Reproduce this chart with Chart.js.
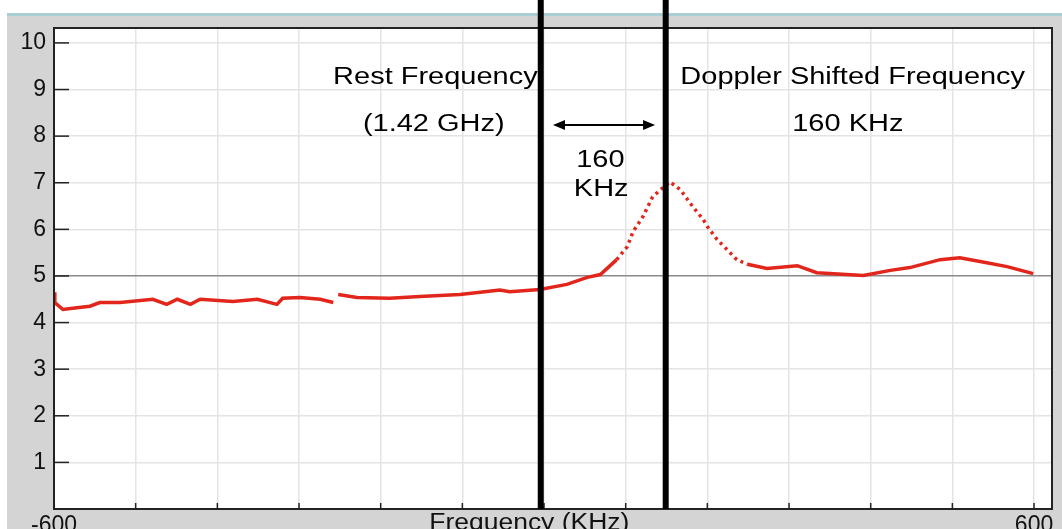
<!DOCTYPE html>
<html>
<head>
<meta charset="utf-8">
<script src="https://cdn.jsdelivr.net/npm/chart.js@4.4.1/dist/chart.umd.min.js"></script>
<style>
  html, body { margin: 0; padding: 0; background: #fff; overflow: hidden; }
  #wrap { position: absolute; left: 0; top: 0; width: 1062px; height: 545px; }
</style>
</head>
<body>
<div id="wrap"><canvas id="c"></canvas></div>
<script>
// ==============================
// Waterstof spectrum (21 cm lijn)
// ==============================
const freqKHz = [-600, -599, -589, -572, -556, -544, -519, -479, -462, -449, -433, -421,
  -381, -351, -327, -320, -299, -274, -258, -255, -252, -229, -189, -152, -103, -78,
  -54, -42, -5, 28, 53, 69, 89, 102, 109, 121, 133, 146, 154, 167, 182, 195, 200,
  212, 224, 236, 249, 273, 310, 334, 391, 424, 448, 485, 509, 534, 567, 599];
const power = [4.65, 4.43, 4.28, 4.32, 4.35, 4.43, 4.43, 4.5, 4.39, 4.5, 4.39, 4.5,
  4.45, 4.5, 4.39, 4.52, 4.54, 4.5, 4.43, null, 4.6, 4.54, 4.52, 4.56, 4.6, 4.65,
  4.7, 4.66, 4.71, 4.82, 4.97, 5.03, 5.35, 5.63, 5.95, 6.27, 6.7, 6.9, 7.02, 6.85,
  6.49, 6.21, 6.06, 5.78, 5.57, 5.35, 5.25, 5.16, 5.22, 5.07, 5.01, 5.12, 5.18,
  5.35, 5.39, 5.31, 5.2, 5.05];

const xTickLabels = [-600, 600];
const yTickLabels = [1, 2, 3, 4, 5, 6, 7, 8, 9, 10];
const markerFreqs = [-4, 149]; // rust- en doppler frequentie
const noteTexts = ["Rest Frequency", "(1.42 GHz)", "160", "KHz", "Doppler Shifted Frequency", "160 KHz"];

const FONT = '"Liberation Sans", Arial, sans-serif';

// Achtergrond, kader, markeringen en teksten
const decor = {
  id: "decor",
  beforeDraw(chart) {
    const { ctx, chartArea: a } = chart;
    ctx.save();
    ctx.fillStyle = "#ffffff";
    ctx.fillRect(0, 0, chart.width, chart.height);
    ctx.fillStyle = "#d4d4d4";
    ctx.fillRect(7, 14, chart.width - 7, chart.height - 14);
    ctx.fillStyle = "#a9cfd2";
    ctx.fillRect(7, 13, chart.width - 7, 3);
    ctx.fillStyle = "#ffffff";
    ctx.fillRect(a.left, a.top, a.width, a.height);
    ctx.restore();
  },
  afterDatasetsDraw(chart) {
    const { ctx, chartArea: a, scales } = chart;
    const xs = scales.x, ys = scales.y;
    ctx.save();

    // kader
    ctx.strokeStyle = "#222";
    ctx.lineWidth = 2;
    ctx.strokeRect(a.left, a.top, a.width, a.height);

    // tick streepjes naar binnen
    ctx.lineWidth = 1.5;
    yTickLabels.forEach((v) => {
      const py = ys.getPixelForValue(v);
      ctx.beginPath(); ctx.moveTo(a.left, py); ctx.lineTo(a.left + 15, py); ctx.stroke();
    });
    for (let v = -500; v <= 600; v += 100) {
      const px = xs.getPixelForValue(v);
      ctx.beginPath(); ctx.moveTo(px, a.bottom); ctx.lineTo(px, a.bottom - 6); ctx.stroke();
    }

    // dikke verticale lijnen
    ctx.strokeStyle = "#000";
    ctx.lineWidth = 6;
    markerFreqs.forEach((f) => {
      const px = xs.getPixelForValue(f);
      ctx.beginPath(); ctx.moveTo(px, 0); ctx.lineTo(px, a.bottom); ctx.stroke();
    });

    // pijl tussen de lijnen
    const ay = ys.getPixelForValue(8.24);
    const ax1 = xs.getPixelForValue(11), ax2 = xs.getPixelForValue(136);
    ctx.lineWidth = 2;
    ctx.beginPath(); ctx.moveTo(ax1 + 4, ay); ctx.lineTo(ax2 - 4, ay); ctx.stroke();
    ctx.fillStyle = "#000";
    [[ax1, 1], [ax2, -1]].forEach(([x0, d]) => {
      ctx.beginPath();
      ctx.moveTo(x0, ay);
      ctx.lineTo(x0 + d * 12, ay - 5);
      ctx.lineTo(x0 + d * 12, ay + 5);
      ctx.closePath(); ctx.fill();
    });

    // teksten (iets breder getrokken zoals in het origineel)
    const spots = [[-133, 9.25], [-135, 8.24], [69, 7.47], [70, 6.85], [378, 9.25], [372, 8.24]];
    ctx.font = "23px " + FONT;
    ctx.textAlign = "center";
    ctx.textBaseline = "middle";
    noteTexts.forEach((t, i) => {
      const px = xs.getPixelForValue(spots[i][0]);
      const py = ys.getPixelForValue(spots[i][1]);
      ctx.save();
      ctx.translate(px, py);
      ctx.scale(1.26, 1);
      ctx.fillText(t, 0, 0);
      ctx.restore();
    });

    // as titel
    ctx.font = "23px " + FONT;
    ctx.fillStyle = "#111";
    ctx.textBaseline = "top";
    ctx.save();
    ctx.translate(xs.getPixelForValue(-18), a.bottom + 3);
    ctx.scale(1.15, 1);
    ctx.fillText("Frequency (KHz)", 0, 0);
    ctx.restore();

    ctx.restore();
  },
};

new Chart(document.getElementById("c"), {
  type: "line",
  data: {
    datasets: [
      {
        data: freqKHz.map((f, i) => ({ x: f, y: power[i] })),
        borderColor: "#e3261c",
        borderWidth: 3.5,
        pointRadius: 0,
        tension: 0,
        spanGaps: false,
        segment: {
          borderDash: (c) => (c.p0.parsed.x >= 80 && c.p1.parsed.x <= 260 ? [3, 4] : undefined),
        },
      },
    ],
  },
  options: {
    responsive: true,
    maintainAspectRatio: false,
    animation: false,
    layout: { padding: { top: 28, right: 10, left: 0, bottom: 0 } },
    plugins: { legend: { display: false }, tooltip: { enabled: false } },
    scales: {
      x: {
        type: "linear",
        min: -600,
        max: 622,
        afterFit: (s) => { s.height = 36; },
        ticks: {
          stepSize: 100,
          includeBounds: false,
          autoSkip: false,
          maxRotation: 0,
          padding: 3,
          color: "#111",
          font: { family: FONT, size: 23 },
          callback: (v) => (xTickLabels.includes(v) ? String(v) : ""),
        },
        grid: { color: "#e4e4e4", drawTicks: false, lineWidth: 1.5 },
        border: { display: false },
      },
      y: {
        min: 0,
        max: 10.32,
        afterFit: (s) => { s.width = 54; },
        ticks: {
          stepSize: 1,
          includeBounds: false,
          autoSkip: false,
          padding: 8,
          color: "#111",
          font: { family: FONT, size: 23 },
          callback: (v) => (yTickLabels.includes(v) ? String(v) : ""),
        },
        grid: {
          drawTicks: false,
          lineWidth: 1.5,
          color: (c) => (c.tick && c.tick.value === 5 ? "#8a8a8a" : "#e4e4e4"),
        },
        border: { display: false },
      },
    },
  },
  plugins: [decor],
});
</script>
</body>
</html>
